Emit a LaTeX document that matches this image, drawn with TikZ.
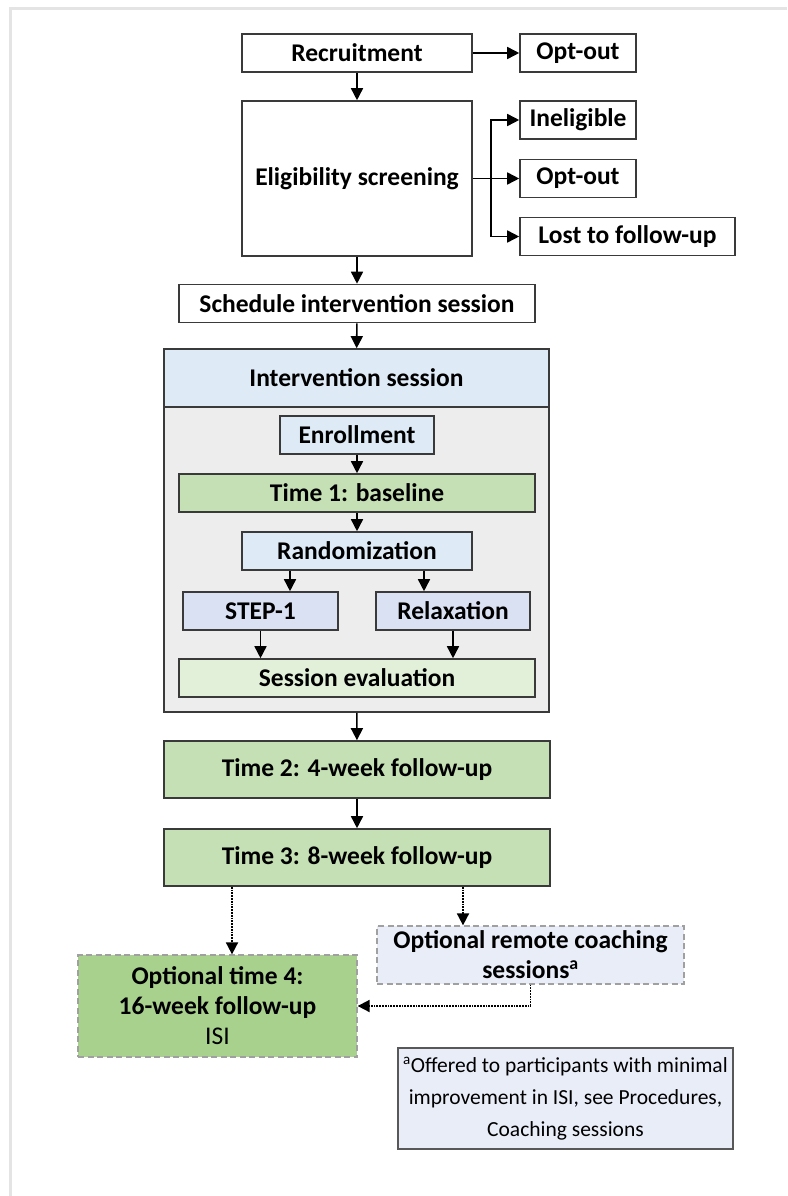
\documentclass[tikz,border=0pt]{standalone}
\usepackage{fontspec}
\setmainfont{Carlito}
\usetikzlibrary{arrows.meta,calc}
\definecolor{edge}{HTML}{3A3A3A}
\definecolor{framegray}{HTML}{E4E4E4}
\definecolor{dashgray}{HTML}{A0A0A0}
\definecolor{hdrblue}{HTML}{DEEBF7}
\definecolor{bodygray}{HTML}{EDEDED}
\definecolor{lavender}{HTML}{DAE1F3}
\definecolor{midgreen}{HTML}{C5E0B4}
\definecolor{palegreen}{HTML}{E2F0D9}
\definecolor{deepgreen}{HTML}{A9D18E}
\definecolor{paleblue}{HTML}{E9EDF8}

\begin{document}
\begin{tikzpicture}[x=1pt,y=-1pt,
	box/.style={draw=edge,line width=1.6pt,minimum height=38pt,inner sep=0pt,
		align=center,font=\bfseries\fontsize{25.5}{30}\selectfont},
	optbox/.style={box,draw=dashgray,dash pattern=on 6pt off 3.5pt,line width=1.3pt},
	arr/.style={line width=1.6pt,-{Triangle[length=12pt,width=12pt]}},
	dotarr/.style={arr,line width=1.8pt,densely dotted}]
	\useasboundingbox (0,0) rectangle (787,1196);
	% Page frame
	\draw[framegray,line width=3pt] (10,1196) -- (10,9) -- (787,9);
	
	% Recruitment and screening
	\node[box,minimum width=230pt] (recruit) at (357,53) {Recruitment};
	\node[box,minimum width=116pt] (optout1) at (578,53) {Opt-out};
	\node[box,minimum width=230pt,minimum height=155pt] (elig) at (357,178.5) {Eligibility screening};
	\node[box,minimum width=116pt] (inelig) at (578,120) {Ineligible};
	\node[box,minimum width=116pt] (optout2) at (578,178.5) {Opt-out};
	\node[box,minimum width=215pt] (lost) at (627.5,236.5) {Lost to follow-up};
	\node[box,minimum width=356pt] (sched) at (357,303.5) {Schedule intervention session};
	\coordinate (br) at (491,178.5);
	
	% Intervention session block
	\node[draw=edge,line width=1.6pt,fill=bodygray,minimum width=385pt,minimum height=363pt,inner sep=0pt] (sessbox) at (356.5,530.5) {};
	\node[box,fill=hdrblue,minimum width=385pt,minimum height=58pt] (sesshead) at (356.5,378) {Intervention session};
	\node[box,fill=hdrblue,minimum width=154pt] (enroll) at (357,435) {Enrollment};
	\node[box,fill=midgreen,minimum width=356pt] (time1) at (357,493) {Time 1: baseline};
	\node[box,fill=hdrblue,minimum width=230pt] (random) at (357,551) {Randomization};
	\node[box,fill=lavender,minimum width=155pt] (step) at (260.5,611) {STEP-1};
	\node[box,fill=lavender,minimum width=154pt] (relax) at (453,611) {Relaxation};
	\node[box,fill=palegreen,minimum width=356pt] (evalu) at (357,678) {Session evaluation};
	
	% Follow-ups
	\node[box,fill=midgreen,minimum width=386pt,minimum height=57pt] (time2) at (357,769.5) {Time 2: 4-week follow-up};
	\node[box,fill=midgreen,minimum width=386pt,minimum height=57pt] (time3) at (357,857.5) {Time 3: 8-week follow-up};
	\node[optbox,fill=deepgreen,minimum width=279pt,minimum height=102pt] (opt4) at (217.5,1006)
		{Optional time 4:\\16-week follow-up\\{\mdseries ISI}};
	\node[optbox,fill=paleblue,minimum width=307pt,minimum height=58pt] (coach) at (530.5,955)
		{Optional remote coaching\\sessions\textsuperscript{a}};
	\node[box,draw=edge!85,line width=2.2pt,fill=paleblue,minimum width=335pt,minimum height=101pt,
		font=\fontsize{21.5}{32}\selectfont] (note) at (565.5,1098.5)
		{\textsuperscript{a}Offered to participants with minimal\\improvement in ISI, see Procedures,\\Coaching sessions};
	
	% Arrows
	\draw[arr] (recruit) -- (optout1);
	\draw[arr] (recruit) -- (elig);
	\draw[arr] (elig.east) -- (optout2.west);
	\draw[arr] (br) |- (inelig.west);
	\draw[arr] (br) |- (lost.west);
	\draw[arr] (elig) -- (sched);
	\draw[arr] (sched) -- (sesshead);
	\draw[arr] (enroll) -- (time1);
	\draw[arr] (time1) -- (random);
	\draw[arr] ([xshift=-67pt]random.south) -- ([xshift=-67pt]random.south |- step.north);
	\draw[arr] ([xshift=67pt]random.south) -- ([xshift=67pt]random.south |- relax.north);
	\draw[arr] (step.south) -- (step.south |- evalu.north);
	\draw[arr] (relax.south) -- (relax.south |- evalu.north);
	\draw[arr] (sessbox) -- (time2);
	\draw[arr] (time2) -- (time3);
	
	% Optional paths
	\draw[dotarr] ([xshift=-125pt]time3.south) -- ([xshift=-125pt]time3.south |- opt4.north);
	\draw[dotarr] ([xshift=106pt]time3.south) -- ([xshift=106pt]time3.south |- coach.north);
	\draw[dotarr] (coach.south) |- (opt4.east);
\end{tikzpicture}
\end{document}
